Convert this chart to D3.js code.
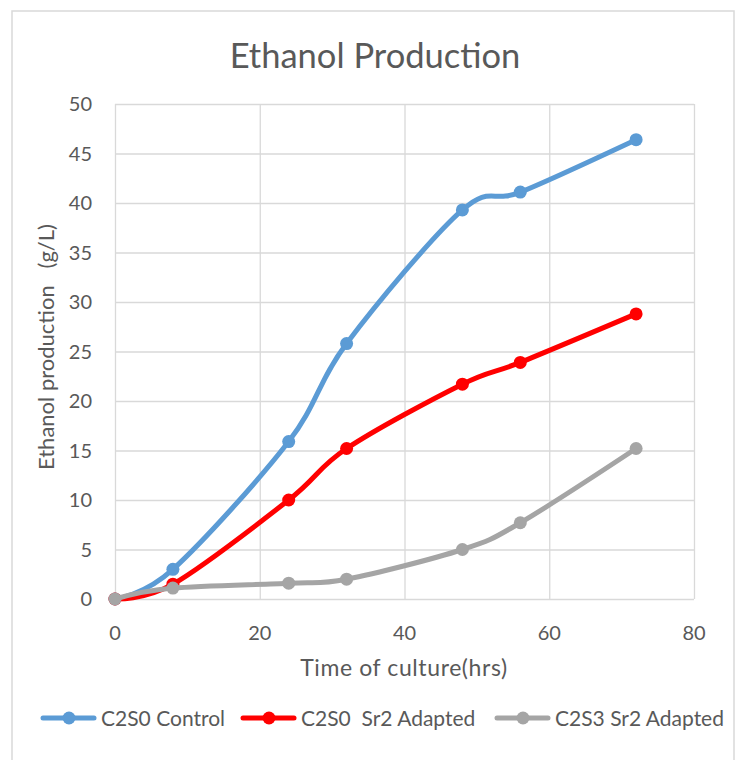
<html lang="en">
<head>
<meta charset="utf-8">
<title>Ethanol Production</title>
<style>
  body { margin: 0; padding: 0; background: white; }
  svg { background: white; font-family: Lato, "Open Sans", sans-serif; }
  text { fill: #595959; white-space: pre; }
  .grid line { stroke: #d9d9d9; stroke-width: 1.3px; }
  .grid path { display: none; }
</style>
</head>
<body>
<div id="chart"></div>
<script src="https://d3js.org/d3.v7.min.js"></script>
<script>
var hours = [0, 8, 24, 32, 48, 56, 72];
var control = [0, 3.0, 15.9, 25.8, 39.3, 41.1, 46.4];
var sr2Adapted = [0, 1.5, 10.0, 15.2, 21.7, 23.9, 28.8];
var c2s3Adapted = [0, 1.1, 1.6, 2.0, 5.0, 7.7, 15.2];

var seriesNames = ["C2S0 Control", "C2S0  Sr2 Adapted", "C2S3 Sr2 Adapted"];
var seriesColors = ["#5b9bd5", "#ff0000", "#a5a5a5"];
var xTicks = [0, 20, 40, 60, 80];
var yTicks = [0, 5, 10, 15, 20, 25, 30, 35, 40, 45, 50];

var width = 742, height = 760;
var svg = d3.select("#chart").append("svg")
  .attr("width", width).attr("height", height);

// chart border
svg.append("rect")
  .attr("x", 12).attr("y", 11)
  .attr("width", 722).attr("height", 760)
  .attr("fill", "none").attr("stroke", "#d9d9d9").attr("stroke-width", 1.5);

var x = d3.scaleLinear().domain([0, 80]).range([115, 694]);
var y = d3.scaleLinear().domain([0, 50]).range([599, 104]);

// gridlines
svg.append("g").attr("class", "grid")
  .attr("transform", "translate(0," + y(0) + ")")
  .call(d3.axisBottom(x).tickValues(xTicks).tickSize(-(y(0) - y(50))).tickFormat(""));
svg.append("g").attr("class", "grid")
  .attr("transform", "translate(" + x(0) + ",0)")
  .call(d3.axisLeft(y).tickValues(yTicks).tickSize(-(x(80) - x(0))).tickFormat(""));

// tick labels
svg.append("g").selectAll("text").data(xTicks).enter().append("text")
  .attr("x", function(d){ return x(d); })
  .attr("y", 640)
  .attr("text-anchor", "middle")
  .style("font-size", "20px")
  .text(function(d){ return d; });
svg.append("g").selectAll("text").data(yTicks).enter().append("text")
  .attr("x", 92)
  .attr("y", function(d){ return y(d) + 7; })
  .attr("text-anchor", "end")
  .style("font-size", "20px")
  .text(function(d){ return d; });

// titles
svg.append("text").attr("x", 375).attr("y", 68)
  .attr("text-anchor", "middle").style("font-size", "34.5px")
  .text("Ethanol Production");
svg.append("text").attr("x", 404).attr("y", 676)
  .attr("text-anchor", "middle").style("font-size", "23px")
  .style("letter-spacing", "0.6px")
  .text("Time of culture(hrs)");
svg.append("text")
  .attr("transform", "translate(54,347) rotate(-90)")
  .attr("text-anchor", "middle").style("font-size", "22px")
  .text("Ethanol production   (g/L)");

var allSeries = [control, sr2Adapted, c2s3Adapted];
var line = d3.line()
  .x(function(d, i){ return x(hours[i]); })
  .y(function(d){ return y(d); })
  .curve(d3.curveCardinal.tension(0));

allSeries.forEach(function(vals, s){
  var g = svg.append("g");
  g.append("path")
    .attr("d", line(vals))
    .attr("fill", "none")
    .attr("stroke", seriesColors[s])
    .attr("stroke-width", 5)
    .attr("stroke-linecap", "round");
  g.selectAll("circle").data(vals).enter().append("circle")
    .attr("cx", function(d, i){ return x(hours[i]); })
    .attr("cy", function(d){ return y(d); })
    .attr("r", 6.5)
    .attr("fill", seriesColors[s]);
});

// legend
var legendX = [43, 243, 497];
var legend = svg.append("g").selectAll("g").data(seriesNames).enter().append("g")
  .attr("transform", function(d, i){ return "translate(" + legendX[i] + ",718)"; });
legend.append("line")
  .attr("x1", 0).attr("x2", 51).attr("y1", 0).attr("y2", 0)
  .attr("stroke", function(d, i){ return seriesColors[i]; })
  .attr("stroke-width", 5).attr("stroke-linecap", "round");
legend.append("circle")
  .attr("cx", 26).attr("cy", 0).attr("r", 6.5)
  .attr("fill", function(d, i){ return seriesColors[i]; });
legend.append("text")
  .attr("x", 58).attr("y", 7.5)
  .style("font-size", "21px")
  .text(function(d){ return d; });
</script>
</body>
</html>
